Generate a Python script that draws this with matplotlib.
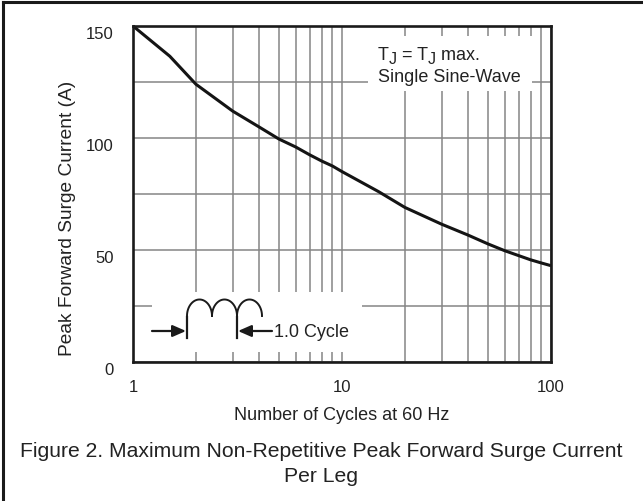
import matplotlib
matplotlib.use("Agg")
import matplotlib.pyplot as plt
import matplotlib.transforms as mtransforms
from matplotlib.lines import Line2D
from matplotlib.patches import Rectangle
import numpy as np

plt.rcParams["font.family"] = ["Liberation Sans", "DejaVu Sans"]

# surge rating
cycles = [1, 1.5, 2, 3, 4, 5, 6, 7, 8, 9, 10, 15, 20, 30, 40, 50, 60, 70, 80, 90, 100]
surge_a = [150, 136.5, 124, 112, 105, 99.5, 96, 92.5, 89.7, 87.5, 85, 76, 69,
           61.5, 56.7, 52.7, 49.7, 47.5, 45.6, 44.2, 43]

x_ticks = [1, 10, 100]
x_ticklabels = ["1", "10", "100"]
y_ticks = [0, 50, 100, 150]
y_minor = [25, 75, 125]

TXT = "#222222"
INK = "#1a1a1a"

W, H = 643, 502
fig = plt.figure(figsize=(W / 100, H / 100), dpi=100)
ax = fig.add_axes([133 / W, 1 - 363 / H, 418 / W, 336 / H])

ax.set_xscale("log")
ax.set_xlim(1, 100)
ax.set_ylim(0, 150)
ax.set_xticks(x_ticks)
ax.set_xticklabels(x_ticklabels)
ax.set_yticks(y_ticks)
ax.set_yticks(y_minor, minor=True)
ax.xaxis.set_minor_formatter(matplotlib.ticker.NullFormatter())
ax.tick_params(which="both", length=0, labelsize=12, colors=TXT)
ax.tick_params(axis="x", pad=12)
ax.tick_params(axis="y", pad=14)
ax.grid(True, which="both", color="#858585", lw=1.1, zorder=0)
for sp in ax.spines.values():
    sp.set_linewidth(1.9)
    sp.set_color(INK)
    sp.set_zorder(5)

# labels on the scan sit a few pixels below their gridlines
off = mtransforms.ScaledTranslation(0, -0.06, fig.dpi_scale_trans)
for lab in ax.get_yticklabels():
    lab.set_transform(lab.get_transform() + off)

# white areas that break the grid behind the notes
for x0, y0, w, h in [(0.045, 0.030, 0.503, 0.178), (0.562, 0.807, 0.392, 0.163)]:
    ax.add_patch(Rectangle((x0, y0), w, h, transform=ax.transAxes,
                           facecolor="white", edgecolor="none", zorder=2))

ax.plot(cycles, surge_a, color="#141414", lw=2.2, zorder=4, clip_on=False,
        solid_capstyle="butt")

ax.set_xlabel("Number of Cycles at 60 Hz", fontsize=13, labelpad=9, color=TXT)
fig.text(68 / W, 1 - 218 / H, "Peak Forward Surge Current (A)", rotation=90,
         fontsize=13.8, ha="center", va="center", color=TXT)

fig.text(0.5, 1 - 452 / H,
         "Figure 2. Maximum Non-Repetitive Peak Forward Surge Current",
         fontsize=15.2, ha="center", va="center", color=TXT)
fig.text(0.5, 1 - 477 / H, "Per Leg", fontsize=15.2, ha="center",
         va="center", color=TXT)

# overlay in pixel units for the notes, the sine-wave sketch and the page frame
ov = fig.add_axes([0, 0, 1, 1], zorder=10)
ov.set_xlim(0, W)
ov.set_ylim(H, 0)
ov.axis("off")
ov.patch.set_alpha(0)

# "TJ = TJ max." with a slightly smaller, lowered J, each piece after the previous one
prev = ov.text(378, 64, "T", fontsize=13, ha="left", va="bottom", color=TXT)
for s, dy, fs in [("J", -1.8, 11.5), (" = T", 1.8, 13), ("J", -1.8, 11.5), (" max.", 1.8, 13)]:
    prev = ov.annotate(s, xy=(1, 0), xycoords=prev, xytext=(0.05, dy),
                       textcoords="offset points", fontsize=fs, ha="left",
                       va="bottom", color=TXT)
ov.text(378, 78, "Single Sine-Wave", fontsize=13, ha="left", va="center", color=TXT)

t = np.linspace(0, np.pi, 60)
for x0 in [187, 212, 237]:
    ov.plot(x0 + 12.5 - 12.5 * np.cos(t), 317 - 16.5 * np.sin(t), color=INK, lw=1.4)
for xb in [187, 237]:
    ov.plot([xb, xb], [318, 339], color=INK, lw=1.6)
ov.annotate("", xy=(186, 332), xytext=(152, 332),
            arrowprops=dict(arrowstyle="-|>,head_length=0.8,head_width=0.35",
                            color=INK, lw=1.6, shrinkA=0, shrinkB=0))
ov.annotate("", xy=(238, 332), xytext=(272, 332),
            arrowprops=dict(arrowstyle="-|>,head_length=0.8,head_width=0.35",
                            color=INK, lw=1.6, shrinkA=0, shrinkB=0))
ov.text(274, 333, "1.0 Cycle", fontsize=13, va="center", ha="left", color=TXT)

fig.add_artist(Line2D([3 / W, 3 / W], [0, 1 - 3 / H], color=INK, lw=2.2))
fig.add_artist(Line2D([3 / W, 1], [1 - 3 / H, 1 - 3 / H], color=INK, lw=2.2))

fig.savefig("out.png", dpi=100, facecolor="white")
